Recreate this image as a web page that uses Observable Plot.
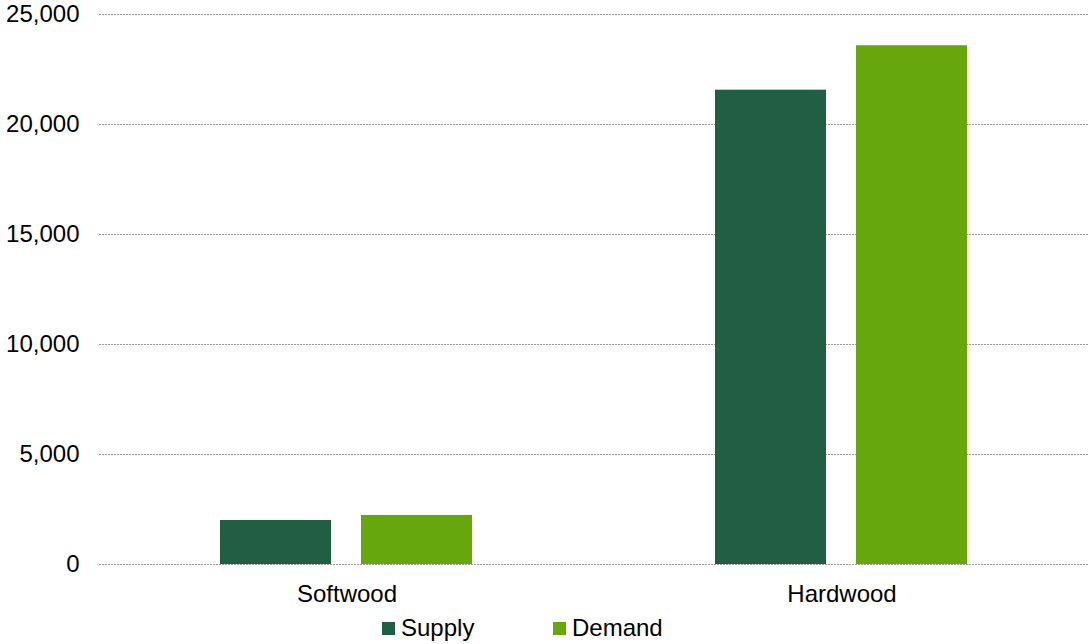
<!DOCTYPE html>
<html>
<head>
<meta charset="utf-8">
<script src="https://cdn.jsdelivr.net/npm/d3@7"></script>
<script src="https://cdn.jsdelivr.net/npm/@observablehq/plot@0.6"></script>
<style>
  html, body { margin: 0; padding: 0; background: #fff; }
  body { width: 1090px; height: 644px; position: relative; overflow: hidden; font-family: "Liberation Sans", Arial, sans-serif; }
  #legend { position: absolute; left: 382px; top: 616px; display: flex; align-items: center; font-size: 24px; line-height: 24px; color: #000; }
  .item { display: flex; align-items: center; }
  .sw { width: 13px; height: 13px; margin-right: 6px; }
</style>
</head>
<body>
<div id="chart"></div>
<div id="legend"></div>
<script>
const categories = ["Softwood", "Hardwood"];
const series = ["Supply", "Demand"];
const supply = [2000, 21560];
const demand = [2230, 23580];
const yTicks = [0, 5000, 10000, 15000, 20000, 25000];
const colors = ["#215E43", "#65A70D"];

const data = [];
categories.forEach((c, i) => {
  data.push({category: c, series: "Supply", value: supply[i]});
  data.push({category: c, series: "Demand", value: demand[i]});
});

const chart = Plot.plot({
  width: 1090,
  height: 608,
  marginTop: 14,
  marginLeft: 99,
  marginRight: 1,
  marginBottom: 44,
  style: {fontFamily: "'Liberation Sans', Arial, sans-serif", fontSize: "24px", color: "#000", background: "#fff", overflow: "visible"},
  fx: {domain: categories, padding: 0, label: null},
  x: {domain: series, paddingInner: 0.21, paddingOuter: 0.86, axis: null},
  y: {domain: [0, 25000], label: null},
  color: {domain: series, range: colors},
  marks: [
    Plot.gridY(yTicks, {stroke: "#9a9a9a", strokeOpacity: 1, strokeDasharray: "2,1"}),
    Plot.barY(data, {fx: "category", x: "series", y: "value", fill: "series"}),
    Plot.axisY({ticks: yTicks, tickSize: 0, tickPadding: 20, tickFormat: d3.format(","), label: null, fontSize: 24}),
    Plot.axisFx({anchor: "bottom", tickSize: 0, tickPadding: 20, label: null, fontSize: 24})
  ]
});
document.getElementById("chart").appendChild(chart);

const legend = document.getElementById("legend");
const itemWidths = [171, null];
series.forEach((s, i) => {
  const item = document.createElement("div");
  item.className = "item";
  if (itemWidths[i]) item.style.width = itemWidths[i] + "px";
  const sw = document.createElement("div");
  sw.className = "sw";
  sw.style.background = colors[i];
  const t = document.createElement("span");
  t.textContent = s;
  item.appendChild(sw);
  item.appendChild(t);
  legend.appendChild(item);
});
</script>
</body>
</html>
